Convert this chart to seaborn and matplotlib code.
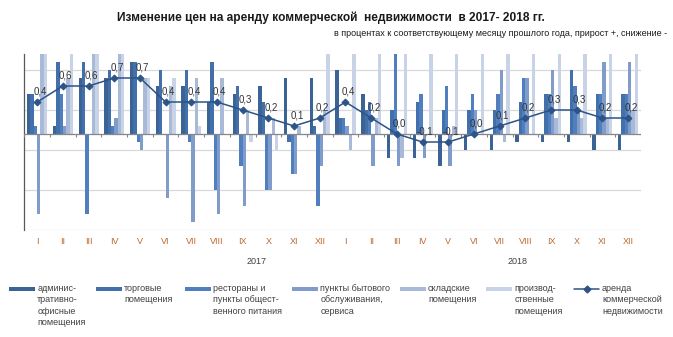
import numpy as np
import pandas as pd
import matplotlib
matplotlib.use("Agg")
import matplotlib.pyplot as plt
import seaborn as sns
from matplotlib.patches import Rectangle
from matplotlib.lines import Line2D

# ---------------- data ----------------
months = ["I", "II", "III", "IV", "V", "VI", "VII", "VIII", "IX", "X", "XI", "XII"]
years = ["2017", "2018"]

series_names = [
    "админис-\nтративно-\nофисные\nпомещения",
    "торговые\nпомещения",
    "рестораны и\nпункты общест-\nвенного питания",
    "пункты бытового\nобслуживания,\nсервиса",
    "складские\nпомещения",
    "производ-\nственные\nпомещения",
]
line_name = "аренда\nкоммерческой\nнедвижимости"

admin = [0.5, 0.1, 0.7, 0.7, 0.9, 0.6, 0.6, 0.4, 0.5, 0.6, 0.7, 0.7,
         0.8, 0.5, -0.3, -0.3, -0.4, -0.2, -0.2, -0.1, -0.1, -0.1, -0.2, -0.2]
trade = [0.5, 0.9, 0.9, 0.8, 0.9, 0.8, 0.8, 0.9, 0.6, 0.4, -0.1, 0.1,
         0.2, 0.3, 0.3, 0.4, 0.3, 0.3, 0.3, 0.4, 0.5, 0.8, 0.5, 0.5]
restaurants = [0.1, 0.5, -1.0, 0.1, -0.1, 0.0, -0.1, -0.7, -0.4, -0.7, -0.5, -0.9,
               0.2, 0.4, 1.3, 0.5, 0.6, 0.5, 0.5, 0.7, 0.5, 0.6, 0.5, 0.5]
services = [-1.0, 0.1, 0.0, 0.2, -0.2, -0.8, -1.1, -1.0, -0.9, -0.7, -0.5, -0.4,
            0.1, -0.4, -0.4, -0.3, -0.4, 0.3, 0.8, 0.7, 0.8, 0.3, 0.9, 0.9]
storage = [1.2, 0.7, 1.2, 1.2, 0.7, 0.6, 0.7, 0.7, 0.3, 0.2, 0.1, 0.3,
           -0.2, 0.2, -0.3, 0.0, 0.1, 0.0, -0.1, 0.0, 0.2, 0.2, 0.2, 0.3]
production = [1.3, 1.3, 1.3, 1.3, 0.7, 0.7, 0.1, 0.0, -0.1, -0.2, 0.0, 1.2,
              1.3, 1.2, 1.3, 1.2, 1.3, 1.3, 1.3, 1.3, 1.3, 1.3, 1.3, 1.3]
commercial = [0.4, 0.6, 0.6, 0.7, 0.7, 0.4, 0.4, 0.4, 0.3, 0.2, 0.1, 0.2,
              0.4, 0.2, 0.0, -0.1, -0.1, 0.0, 0.1, 0.2, 0.3, 0.3, 0.2, 0.2]

colors = ["#3B6395", "#4270AB", "#4F7FBE", "#7F9CCB", "#A9BAD9", "#C9D3E7"]
line_color = "#2E5386"

# ---------------- figure ----------------
sns.set_theme(style="white")
plt.rcParams["font.family"] = ["Liberation Sans Narrow", "Liberation Sans", "DejaVu Sans"]

W, H = 673, 337
fig = plt.figure(figsize=(W / 100, H / 100), dpi=100)
fig.patch.set_facecolor("white")
left, right, top, bottom = 24.3, 641.0, 54.0, 230.0
ax = fig.add_axes([left / W, 1 - bottom / H, (right - left) / W, (bottom - top) / H])

keys = [f"{y}-{m}" for y in years for m in months]
values = [admin, trade, restaurants, services, storage, production]
df = pd.DataFrame({
    "key": keys * len(series_names),
    "series": np.repeat(series_names, len(keys)),
    "value": np.concatenate(values),
})

sns.barplot(data=df, x="key", y="value", hue="series", order=keys,
            hue_order=series_names, palette=colors, width=0.78, saturation=1,
            errorbar=None, legend=False, linewidth=0, ax=ax)

xpos = np.arange(len(keys))
sns.lineplot(x=xpos, y=commercial, color=line_color, lw=1.1, marker="D",
             markersize=3.5, markeredgecolor=line_color, ax=ax, zorder=5)

for i, v in enumerate(commercial):
    ax.annotate(f"{v:.1f}".replace(".", ","), (i, v), xytext=(2, 4),
                textcoords="offset points", ha="center", va="bottom",
                fontsize=7, color="#333333", zorder=6)

ax.set_ylim(-1.2, 1.0)
ax.set_xlim(-0.5, len(keys) - 0.5)
ax.set_yticks([-1.2, -0.7, -0.2, 0.3, 0.8])
ax.set_yticklabels([])
ax.yaxis.grid(True, color="#D9D9D9", lw=0.9)
ax.xaxis.grid(False)
ax.set_axisbelow(True)
ax.tick_params(axis="y", length=0)
for s in ["top", "right", "bottom"]:
    ax.spines[s].set_visible(False)
ax.spines["left"].set_color("#595959")
ax.spines["left"].set_linewidth(0.9)

ax.axhline(0, color="#868686", lw=0.9, zorder=4)
ax.vlines(np.arange(len(keys) + 1) - 0.5, -0.04, 0, color="#868686", lw=0.8, zorder=4)

ax.set_xticks(xpos)
ax.set_xticklabels(months * 2, fontsize=6.5, color="#C0662B")
ax.tick_params(axis="x", length=0, pad=5)
ax.set_xlabel("")
ax.set_ylabel("")

# titles
fig.text(331 / W, 1 - 18 / H,
         "Изменение цен на аренду коммерческой  недвижимости  в 2017- 2018 гг.",
         ha="center", va="center", fontsize=8.6, fontweight="bold", color="#1a1a1a")
fig.text(667 / W, 1 - 33 / H,
         "в процентах к соответствующему месяцу прошлого года, прирост +, снижение -",
         ha="right", va="center", fontsize=6.5, color="#1a1a1a")

# year labels
fig.text(257 / W, 1 - 262 / H, "2017", ha="center", va="center", fontsize=6.5, color="#404040")
fig.text(518 / W, 1 - 261 / H, "2018", ha="center", va="center", fontsize=6.5, color="#404040")

# legend
patch_x = [8.7, 95.5, 184.5, 291.8, 399.5, 486.3]
for px, c, name in zip(patch_x, colors, series_names):
    fig.add_artist(Rectangle((px / W, 1 - 291 / H), 26 / W, 4 / H,
                             transform=fig.transFigure, color=c, lw=0))
    fig.text((px + 28.5) / W, 1 - 284 / H, name, ha="left", va="top",
             fontsize=6.5, color="#404040", linespacing=1.35)
fig.add_artist(Line2D([574 / W, 599 / W], [1 - 289 / H, 1 - 289 / H],
                      transform=fig.transFigure, color=line_color, lw=1.1))
fig.add_artist(Line2D([586.5 / W], [1 - 289 / H], transform=fig.transFigure,
                      color=line_color, marker="D", markersize=3.5))
fig.text(602 / W, 1 - 284 / H, line_name, ha="left", va="top",
         fontsize=6.5, color="#404040", linespacing=1.35)

fig.savefig("out.png", dpi=100, facecolor="white")
